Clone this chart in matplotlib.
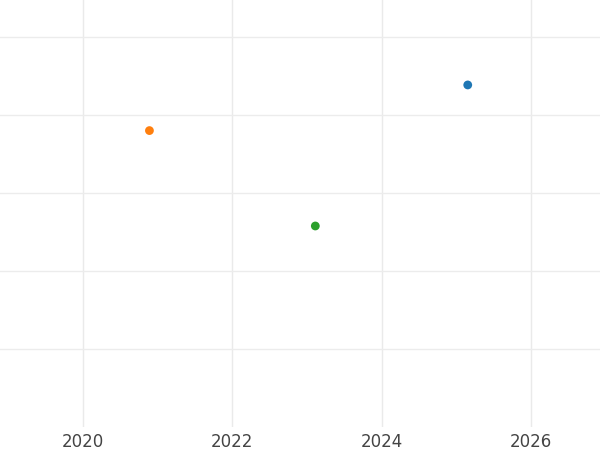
import matplotlib
matplotlib.use("Agg")
import matplotlib.pyplot as plt

years = [2025.15, 2020.89, 2023.11]
values = [4.385, 3.80, 2.577]
colors = ["#1f77b4", "#ff7f0e", "#2ca02c"]
xticks = [2020, 2022, 2024, 2026]

fig = plt.figure(figsize=(6, 4.5), dpi=100)
ax = fig.add_axes([0, 23/450, 1, 427/450])
ax.scatter(years, values, c=colors, s=40, zorder=3, edgecolors="none")
ax.set_xlim(2018.89, 2026.92)
ax.set_ylim(0, 5.474)
ax.set_xticks(xticks)
ax.set_xticklabels([str(t) for t in xticks], fontsize=12, color="#444444")
ax.set_yticks([1, 2, 3, 4, 5])
ax.set_yticklabels([])
ax.tick_params(length=0, pad=4)
ax.grid(True, axis="y", color="#ececec", linewidth=1)
ax.grid(True, axis="x", color="#eaeaea", linewidth=1)
for s in ax.spines.values():
    s.set_visible(False)
fig.savefig("out.png", dpi=100)
